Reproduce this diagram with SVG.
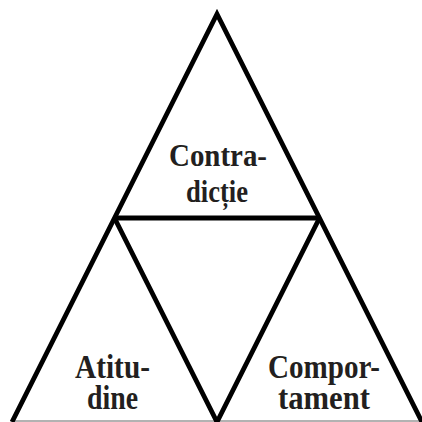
<svg xmlns="http://www.w3.org/2000/svg" width="422" height="422" viewBox="0 0 422 422">
<style>
.e{stroke:#000;stroke-width:4.8;fill:none;stroke-linecap:butt;stroke-linejoin:miter}
.t{font-family:"Liberation Serif","Times New Roman",serif;font-weight:bold;font-size:32px;fill:#231f20;text-anchor:middle}
.b{font-size:33px}
</style>
<rect width="422" height="422" fill="#fff"/>
<line x1="12" y1="421" x2="422" y2="421" stroke="#999" stroke-width="1.5"/>
<g id="connectors">
<polyline class="e" points="12,422 217,14 422,422"/>
<line class="e" x1="114.5" y1="218" x2="319.5" y2="218"/>
<polyline class="e" points="114.5,218 217,422 319.5,218"/>
</g>
<g id="contradictie">
<text class="t" x="218" y="166" textLength="98" lengthAdjust="spacingAndGlyphs">Contra-</text>
<text class="t" x="217" y="202" textLength="62" lengthAdjust="spacingAndGlyphs">dicție</text>
</g>
<g id="atitudine">
<text class="t b" x="112.5" y="378" textLength="75" lengthAdjust="spacingAndGlyphs">Atitu-</text>
<text class="t b" x="112.5" y="409" textLength="51" lengthAdjust="spacingAndGlyphs">dine</text>
</g>
<g id="comportament">
<text class="t b" x="324" y="378" textLength="112" lengthAdjust="spacingAndGlyphs">Compor-</text>
<text class="t b" x="324" y="409" textLength="92" lengthAdjust="spacingAndGlyphs">tament</text>
</g>
</svg>
